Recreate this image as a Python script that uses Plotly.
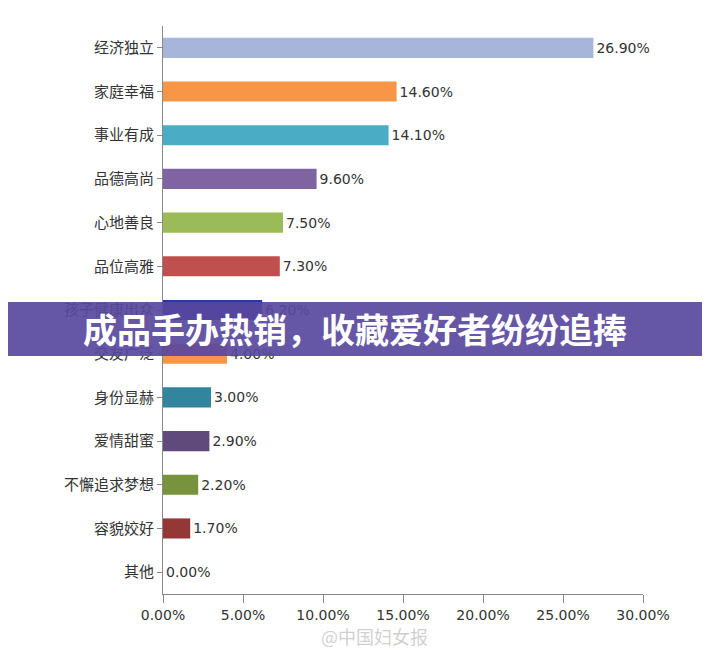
import plotly.graph_objects as go

# 从上到下的类别
categories = ["经济独立", "家庭幸福", "事业有成", "品德高尚", "心地善良", "品位高雅", "孩子健康出众",
              "交友广泛", "身份显赫", "爱情甜蜜", "不懈追求梦想", "容貌姣好", "其他"]
values = [26.9, 14.6, 14.1, 9.6, 7.5, 7.3, 6.2, 4.0, 3.0, 2.9, 2.2, 1.7, 0.0]
colors = ["#a6b5d9", "#f79646", "#4bacc6", "#8064a2", "#9bbb59", "#c0504d", "#2a3a9c",
          "#f79646", "#31859c", "#604a7b", "#77933c", "#953735", "#4f81bd"]
x_ticks = [0, 5, 10, 15, 20, 25, 30]

fig = go.Figure(go.Bar(
    y=categories, x=values, orientation="h",
    marker=dict(color=colors, line=dict(width=0)),
    text=[f"{v:.2f}%" for v in values], textposition="outside",
    textfont=dict(size=14, color="#333333", family="DejaVu Sans"),
    cliponaxis=False, width=0.46,
))

fig.update_yaxes(autorange="reversed", showline=True, linecolor="#888888", automargin=False,
                 ticks="outside", ticklen=5, tickcolor="#888888",
                 tickfont=dict(size=15, color="#333333", family="Noto Sans CJK SC"))
fig.update_xaxes(range=[0, 30], tickvals=x_ticks, ticktext=[f"{t:.2f}%" for t in x_ticks],
                 showgrid=False, showline=True, linecolor="#888888", ticks="outside",
                 ticklen=8, tickcolor="#888888", zeroline=False, automargin=False,
                 tickfont=dict(size=14, color="#333333", family="DejaVu Sans"))

# 中间的紫色横幅
fig.add_shape(type="rect", xref="paper", yref="paper", x0=-0.4, x1=1.2, y0=0.419, y1=0.514,
              fillcolor="rgba(88,72,158,0.92)", line=dict(width=0), layer="above")
fig.add_annotation(xref="paper", yref="paper", x=0.4, y=0.468, showarrow=False,
                   text="<b>成品手办热销，收藏爱好者纷纷追捧</b>",
                   font=dict(size=34, color="white", family="Noto Sans CJK SC"))
# 水印
fig.add_annotation(xref="paper", yref="paper", x=0.44, y=-0.1, showarrow=False,
                   text="@中国妇女报", font=dict(size=18, color="rgba(160,160,160,0.5)",
                                             family="Noto Sans CJK SC"))

fig.update_layout(width=710, height=655, margin=dict(l=155, r=75, t=18, b=69),
                  plot_bgcolor="white", paper_bgcolor="white", showlegend=False)
fig.write_html("out.html")
